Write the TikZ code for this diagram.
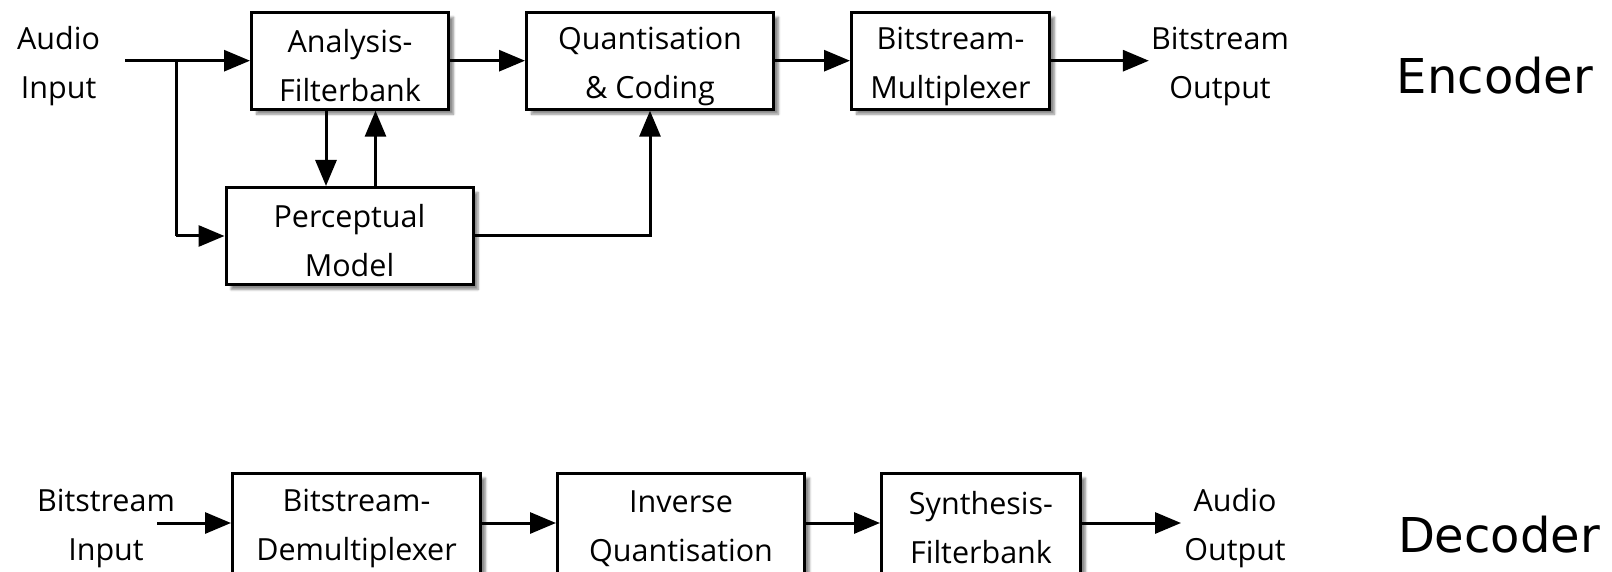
\documentclass[tikz,border=0pt]{standalone}
\usepackage{fontspec}
\setmainfont{Open Sans}
\newfontfamily\labelfont{DejaVu Sans}
\usetikzlibrary{arrows.meta,shadows.blur}
% taller first line pushes two-line labels slightly down in their boxes
\newcommand\fl{\rule{0pt}{33pt}}
\begin{document}
\begin{tikzpicture}[x=1pt,y=-1pt,
  txt/.style={font=\fontsize{30.5}{49}\selectfont, align=center, inner sep=2pt},
  block/.style={txt, draw, line width=3pt, fill=white,
    blur shadow={shadow xshift=5pt, shadow yshift=-5pt, shadow blur steps=6, shadow opacity=45},
    minimum height=97pt},
  arr/.style={line width=3pt, -{Triangle[length=26pt,width=21pt]}},
  ln/.style={line width=3pt},
  big/.style={font=\labelfont\fontsize{48}{58}\selectfont, inner sep=0pt}]
\useasboundingbox (0,0) rectangle (1612,572);

% encoder blocks
\node[block, minimum width=197pt] (ana) at (350,60.7) {\fl Analysis-\\Filterbank};
\node[block, minimum width=247pt] (quant) at (650,60.7) {\fl Quantisation\\\& Coding};
\node[block, minimum width=198pt] (mux) at (950.5,60.7) {\fl Bitstream-\\Multiplexer};
\node[block, minimum width=247pt] (perc) at (349.5,236) {\fl Perceptual\\Model};

\node[txt] (ain) at (58.6,60.7) {\fl Audio\\Input};
\node[txt] (bout) at (1220,60.7) {\fl Bitstream\\Output};
\node[big] (enc) at (1495,76) {Encoder};

% decoder blocks
\node[block, minimum width=248pt, minimum height=100pt] (demux) at (356.5,523) {\fl Bitstream-\\Demultiplexer};
\node[block, minimum width=247pt, minimum height=100pt] (inv) at (681,523) {\fl Inverse\\Quantisation};
\node[block, minimum width=199pt, minimum height=100pt] (synth) at (981,523) {\fl Synthesis-\\Filterbank};

\node[txt] (bin) at (106,523) {\fl Bitstream\\Input};
\node[txt] (aout) at (1235,523) {\fl Audio\\Output};
\node[big] (dec) at (1499,535) {Decoder};

% encoder connections
\coordinate (src) at (125,60.7);
\coordinate (split) at (176,60.7);
\coordinate (dn) at (326,0);
\coordinate (up) at (375.5,0);
\draw[arr] (src) -- (ana.west);
\draw[ln] (split) -- (split |- perc.west);
\draw[arr] (split |- perc.west) -- (perc.west);
\draw[arr] (dn |- ana.south) -- (dn |- perc.north);
\draw[arr] (up |- perc.north) -- (up |- ana.south);
\draw[arr] (perc.east) -| (quant.south);
\draw[arr] (ana.east) -- (quant.west);
\draw[arr] (quant.east) -- (mux.west);
\draw[arr] (mux.east) -- (bout.west);

% decoder connections
\coordinate (dsrc) at (157,523);
\coordinate (dout) at (1181,523);
\draw[arr] (dsrc) -- (demux.west);
\draw[arr] (demux.east) -- (inv.west);
\draw[arr] (inv.east) -- (synth.west);
\draw[arr] (synth.east) -- (dout);
\end{tikzpicture}
\end{document}
